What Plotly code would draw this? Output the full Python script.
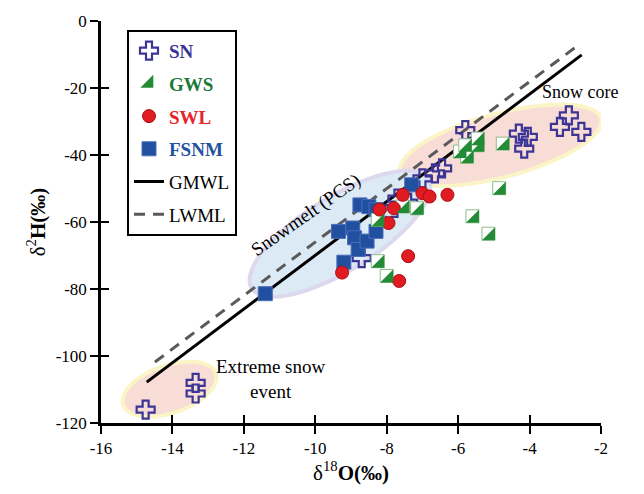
import numpy as np
import plotly.graph_objects as go

# ---------------- data ----------------
sn_x = [-14.75, -13.35, -13.35, -8.7, -7.95, -7.7, -7.4, -7.0, -6.65, -6.45, -5.8, -4.3, -4.05, -4.15, -2.9, -3.15, -2.55]
sn_y = [-116.0, -108.0, -111.2, -70.8, -57.6, -53.0, -54.2, -47.0, -45.5, -44.0, -32.6, -33.6, -34.6, -38.1, -28.2, -31.6, -33.1]

gws_x = [-8.25, -8.25, -8.0, -7.55, -7.15, -5.95, -5.8, -5.75, -5.45, -5.45, -4.75, -4.85, -5.6, -5.15]
gws_y = [-59.4, -71.7, -76.1, -55.4, -55.9, -39.0, -37.1, -40.5, -37.1, -35.1, -36.6, -49.9, -58.3, -63.5]

swl_x = [-9.25, -8.2, -7.8, -7.95, -7.55, -7.0, -6.8, -6.3, -7.4, -7.65]
swl_y = [-75.1, -56.3, -55.9, -60.3, -51.9, -51.4, -52.4, -51.9, -70.2, -77.6]

fsnm_x = [-11.4, -9.35, -9.2, -8.95, -8.9, -8.8, -8.55, -8.3, -8.75, -8.5, -8.3, -7.3]
fsnm_y = [-81.4, -62.8, -72.0, -61.8, -64.7, -68.2, -65.7, -62.8, -54.9, -55.4, -56.3, -48.9]

gmwl_x = [-14.72, -2.54]
gmwl_y = [-107.8, -10.1]
lwml_x = [-14.49, -2.57]
lwml_y = [-101.8, -6.7]

x_ticks = [-16, -14, -12, -10, -8, -6, -4, -2]
x_tick_labels = ["-16", "-14", "-12", "-10", "-8", "-6", "-4", "-2"]
y_ticks = [0, -20, -40, -60, -80, -100, -120]
y_tick_labels = ["0", "-20", "-40", "-60", "-80", "-100", "-120"]

# ellipse regions: centre (data), semi-axes (px), angle (deg)
ell_centers_x = [-4.81, -9.31, -14.08]
ell_centers_y = [-37.1, -63.5, -109.9]
ell_a = [104, 104, 49]
ell_b = [32, 37, 24]
ell_ang = [15, 32, 19]
ell_fill = ["#f8dcd6", "#dceaf5", "#f8dcd6"]
ell_line = ["#faf4c6", "#dcd8ee", "#faf4c6"]

# ---------------- layout geometry ----------------
W, H = 644, 494
ML, MR, MT, MB = 101, 43, 18, 71
XR = [-16, -2]
YR = [-120, 0]
px_x = (W - ML - MR) / (XR[1] - XR[0])
px_y = (H - MT - MB) / (YR[1] - YR[0])

SERIF = "Liberation Serif"

# pixel offset so the right-angle triangle sits in the lower-right half of the square
TRI_SIZE = 14.4
tri_shift = 0.3 * TRI_SIZE / 2  # px
XR3 = [XR[0] - tri_shift / px_x, XR[1] - tri_shift / px_x]
YR3 = [YR[0] + tri_shift / px_y, YR[1] + tri_shift / px_y]

fig = go.Figure()

# lines
fig.add_trace(go.Scatter(x=gmwl_x, y=gmwl_y, mode="lines", name="GMWL",
                         line=dict(color="black", width=3), legendrank=5,
                         legendgroup="g5"))
fig.add_trace(go.Scatter(x=lwml_x, y=lwml_y, mode="lines", name="LWML",
                         line=dict(color="#5a5a5a", width=3, dash="11px,8px"),
                         legendrank=6, legendgroup="g6"))

# SN crosses
fig.add_trace(go.Scatter(x=sn_x, y=sn_y, mode="markers",
                         name="<b><span style='color:#3b3494'>SN</span></b>",
                         marker=dict(symbol="cross-open", size=15, color="#3d3596",
                                     line=dict(width=2.2, color="#3d3596")),
                         legendrank=1, legendgroup="g1"))
# FSNM squares
fig.add_trace(go.Scatter(x=fsnm_x, y=fsnm_y, mode="markers",
                         name="<b><span style='color:#2452a0'>FSNM</span></b>",
                         marker=dict(symbol="square", size=14, color="#2250a0",
                                     line=dict(width=1, color="#4a6cb8")),
                         legendrank=4, legendgroup="g4"))
# GWS half squares (white square + green lower-right triangle)
fig.add_trace(go.Scatter(x=gws_x, y=gws_y, mode="markers", showlegend=False,
                         marker=dict(symbol="square", size=13, color="white",
                                     line=dict(width=1, color="#8cbf8c")),
                         legendgroup="g2", hoverinfo="skip"))
fig.add_trace(go.Scatter(x=gws_x, y=gws_y, mode="markers", xaxis="x3", yaxis="y3",
                         name="<b><span style='color:#1a7a3a'>GWS</span></b>",
                         marker=dict(symbol="triangle-se", size=TRI_SIZE, color="#238a35",
                                     line=dict(width=0)),
                         legendrank=2, legendgroup="g2"))
# SWL circles
fig.add_trace(go.Scatter(x=swl_x, y=swl_y, mode="markers",
                         name="<b><span style='color:#e8232a'>SWL</span></b>",
                         marker=dict(symbol="circle", size=13, color="#e01b22",
                                     line=dict(width=1, color="#a81015")),
                         legendrank=3, legendgroup="g3"))

# ellipses
shapes = []
t = np.linspace(0, 2 * np.pi, 90)
for cx, cy, a, b, ang, fc, lc in zip(ell_centers_x, ell_centers_y, ell_a, ell_b,
                                     ell_ang, ell_fill, ell_line):
    th = np.deg2rad(ang)
    dx = a * np.cos(th) * np.cos(t) - b * np.sin(th) * np.sin(t)
    dy = a * np.sin(th) * np.cos(t) + b * np.cos(th) * np.sin(t)
    xs = cx + dx / px_x
    ys = cy + dy / px_y
    path = "M " + " L ".join(f"{x:.4f},{y:.4f}" for x, y in zip(xs, ys)) + " Z"
    shapes.append(dict(type="path", path=path, xref="x", yref="y", layer="below",
                       fillcolor=fc, line=dict(color=lc, width=4)))

annotations = [
    dict(x=-2.59, y=-21.3, text="Snow core", showarrow=False, xref="x", yref="y",
         font=dict(family=SERIF, size=18, color="black")),
    dict(x=-10.26, y=-58.0, text="Snowmelt (PCS)", showarrow=False, xref="x", yref="y",
         textangle=-35, font=dict(family=SERIF, size=19, color="black")),
    dict(x=-11.24, y=-106.8, text="Extreme snow<br>event", showarrow=False,
         xref="x", yref="y", font=dict(family=SERIF, size=19, color="black")),
]

axis_common = dict(showgrid=False, zeroline=False, showline=True, linewidth=2.5,
                   linecolor="black", ticks="outside", ticklen=8, tickwidth=1.5,
                   tickcolor="black",
                   tickfont=dict(family=SERIF, size=17, color="black"))

hidden = dict(visible=False, showgrid=False, zeroline=False)

fig.update_layout(
    width=W, height=H,
    margin=dict(l=ML, r=MR, t=MT, b=MB),
    paper_bgcolor="white", plot_bgcolor="white",
    shapes=shapes, annotations=annotations,
    xaxis=dict(range=XR, tickmode="array", tickvals=x_ticks, ticktext=x_tick_labels,
               title=dict(text="δ<sup>18</sup><b>O(‰)</b>", standoff=6,
                          font=dict(family=SERIF, size=21, color="black")),
               **axis_common),
    yaxis=dict(range=YR, tickmode="array", tickvals=y_ticks, ticktext=y_tick_labels,
               title=dict(text="δ<sup>2</sup><b>H(‰)</b>", standoff=5,
                          font=dict(family=SERIF, size=21, color="black")),
               **axis_common),
    xaxis2=dict(range=XR, overlaying="x", tickmode="array",
                tickvals=x_ticks, ticks="inside", ticklen=8, tickwidth=1.5,
                tickcolor="black", showticklabels=False, showgrid=False,
                zeroline=False, side="bottom", showline=False),
    yaxis2=dict(range=YR, overlaying="y", tickmode="array",
                tickvals=y_ticks, ticks="inside", ticklen=8, tickwidth=1.5,
                tickcolor="black", showticklabels=False, showgrid=False,
                zeroline=False, side="left", showline=False),
    xaxis3=dict(range=XR3, overlaying="x", **hidden),
    yaxis3=dict(range=YR3, overlaying="y", **hidden),
    legend=dict(x=0.052, y=0.978, xanchor="left", yanchor="top",
                bordercolor="black", borderwidth=2, bgcolor="white",
                font=dict(family=SERIF, size=19, color="black"),
                tracegroupgap=5, itemsizing="trace"),
    showlegend=True,
)

# dummy trace to activate the second axes (inside ticks)
fig.add_trace(go.Scatter(x=[None], y=[None], xaxis="x2", yaxis="y2",
                         showlegend=False, hoverinfo="skip"))

fig.write_html("out.html")
